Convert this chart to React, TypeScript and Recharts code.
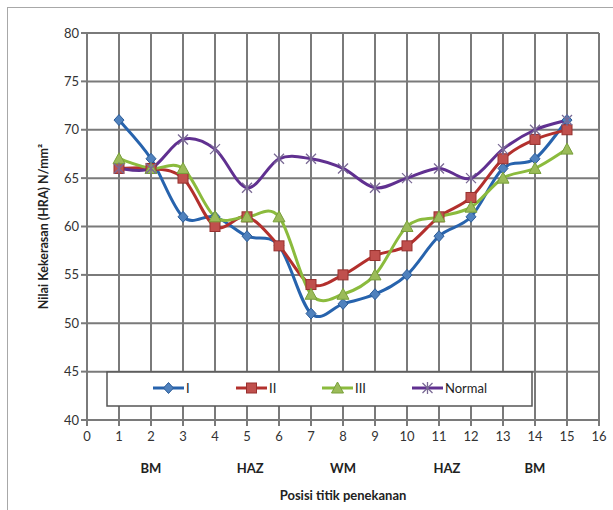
import React from 'react';
import { LineChart, Line, XAxis, YAxis, CartesianGrid } from 'recharts';

const POSITIONS = [1, 2, 3, 4, 5, 6, 7, 8, 9, 10, 11, 12, 13, 14, 15];
const SERIES_I = [71, 67, 61, 61, 59, 58, 51, 52, 53, 55, 59, 61, 66, 67, 71];
const SERIES_II = [66, 66, 65, 60, 61, 58, 54, 55, 57, 58, 61, 63, 67, 69, 70];
const SERIES_III = [67, 66, 66, 61, 61, 61, 53, 53, 55, 60, 61, 62, 65, 66, 68];
const SERIES_NORMAL = [66, 66, 69, 68, 64, 67, 67, 66, 64, 65, 66, 65, 68, 70, 71];

const X_TICKS = [0, 1, 2, 3, 4, 5, 6, 7, 8, 9, 10, 11, 12, 13, 14, 15, 16];
const Y_TICKS = [40, 45, 50, 55, 60, 65, 70, 75, 80];
const ZONE_LABELS = ['BM', 'HAZ', 'WM', 'HAZ', 'BM'];
const ZONE_POS = [2, 5.1, 8, 11.25, 14];

const FONT = 'Lato, "Noto Sans", sans-serif';
const GRID = '#7a7a7a';

const data = POSITIONS.map((p, i) => ({
  pos: p,
  I: SERIES_I[i],
  II: SERIES_II[i],
  III: SERIES_III[i],
  Normal: SERIES_NORMAL[i],
}));

// excel-ish smoothed line (catmull-rom through the points)
function smoothCurve(context: any) {
  let pts: number[][] = [];
  return {
    areaStart() {},
    areaEnd() {},
    lineStart() {
      pts = [];
    },
    point(x: number, y: number) {
      pts.push([+x, +y]);
    },
    lineEnd() {
      if (!pts.length) return;
      context.moveTo(pts[0][0], pts[0][1]);
      const t = 1 / 6;
      for (let i = 0; i < pts.length - 1; i++) {
        const p0 = pts[i - 1] || pts[i];
        const p1 = pts[i];
        const p2 = pts[i + 1];
        const p3 = pts[i + 2] || p2;
        context.bezierCurveTo(
          p1[0] + (p2[0] - p0[0]) * t,
          p1[1] + (p2[1] - p0[1]) * t,
          p2[0] - (p3[0] - p1[0]) * t,
          p2[1] - (p3[1] - p1[1]) * t,
          p2[0],
          p2[1]
        );
      }
    },
  };
}

const Diamond = ({ cx, cy, fill, stroke }: any) => (
  <path d={`M${cx},${cy - 5.5}L${cx + 5},${cy}L${cx},${cy + 5.5}L${cx - 5},${cy}Z`} fill={fill} stroke={stroke} strokeWidth={1} />
);
const Square = ({ cx, cy, fill, stroke }: any) => (
  <rect x={cx - 5} y={cy - 5} width={10} height={10} fill={fill} stroke={stroke} strokeWidth={1} />
);
const Triangle = ({ cx, cy, fill, stroke }: any) => (
  <path d={`M${cx},${cy - 6}L${cx + 6},${cy + 5}L${cx - 6},${cy + 5}Z`} fill={fill} stroke={stroke} strokeWidth={1} />
);
const Star = ({ cx, cy, stroke }: any) => (
  <path
    d={`M${cx - 5},${cy - 5}L${cx + 5},${cy + 5}M${cx - 5},${cy + 5}L${cx + 5},${cy - 5}M${cx},${cy - 6}L${cx},${cy + 6}`}
    stroke={stroke}
    strokeWidth={1.3}
    fill="none"
  />
);

const SERIES = [
  { key: 'I', line: '#2763ad', fill: '#4f81bd', edge: '#2c5c98', Mark: Diamond },
  { key: 'II', line: '#b3302d', fill: '#c0504d', edge: '#98302e', Mark: Square },
  { key: 'III', line: '#8bbb3d', fill: '#9bbb59', edge: '#78a03a', Mark: Triangle },
  { key: 'Normal', line: '#603090', fill: 'none', edge: '#7a6a95', Mark: Star },
];

const LEGEND_X = [153, 236, 322, 412];

// legend sits inside the plot as in the original, so drawn as an overlay
const LegendBox = () => (
  <svg width={430} height={38} style={{ position: 'absolute', left: 106, top: 371, display: 'block' }}>
    <rect x={1} y={1} width={425} height={34} fill="#fff" stroke="#555" strokeWidth={1.5} />
    {SERIES.map((s, i) => {
      const x0 = LEGEND_X[i] - 106;
      return (
        <g key={s.key}>
          <line x1={x0} x2={x0 + 31} y1={17} y2={17} stroke={s.line} strokeWidth={3} />
          <s.Mark cx={x0 + 15.5} cy={17} fill={s.fill} stroke={s.edge} />
          <text x={x0 + 33} y={21.5} fontFamily={FONT} fontSize={13} fill="#222">
            {s.key}
          </text>
        </g>
      );
    })}
  </svg>
);

const XLabels = ({ viewBox }: any) => {
  const { x, y, width } = viewBox;
  return (
    <g fontFamily={FONT} fill="#222">
      {ZONE_LABELS.map((z, i) => (
        <text key={i} x={x + (width * ZONE_POS[i]) / 16} y={y + 53} textAnchor="middle" fontSize={13} fontWeight="bold">
          {z}
        </text>
      ))}
      <text x={x + (width * 8) / 16} y={y + 80} textAnchor="middle" fontSize={13} fontWeight="bold">
        Posisi titik penekanan
      </text>
    </g>
  );
};

const YLabel = ({ viewBox }: any) => {
  const { y, height } = viewBox;
  const cy = y + height / 2;
  return (
    <text x={48} y={cy} transform={`rotate(-90 48 ${cy})`} textAnchor="middle" fontFamily={FONT} fontSize={12.5} fontWeight="bold" fill="#222">
      Nilai Kekerasan (HRA) N/mm²
    </text>
  );
};

export default function App() {
  return (
    <div style={{ position: 'absolute', left: 0, top: 0, width: 613, height: 510, background: '#fff', overflow: 'hidden' }}>
      <div style={{ position: 'absolute', left: 7, top: 7, width: 640, height: 600, border: '1.5px solid #a8a8a8' }} />
      <LineChart width={613} height={510} data={data} margin={{ top: 33, right: 14, left: 47, bottom: 0 }}>
        <CartesianGrid stroke={GRID} strokeWidth={2} />
        <XAxis
          dataKey="pos"
          type="number"
          domain={[0, 16]}
          ticks={X_TICKS}
          interval={0}
          height={90}
          axisLine={{ stroke: GRID, strokeWidth: 2 }}
          tickLine={{ stroke: GRID, strokeWidth: 2 }}
          tickSize={6}
          tick={{ fontFamily: FONT, fontSize: 13, fill: '#333', dy: 4 }}
          label={<XLabels />}
        />
        <YAxis
          type="number"
          domain={[40, 80]}
          ticks={Y_TICKS}
          interval={0}
          width={40}
          axisLine={{ stroke: GRID, strokeWidth: 2 }}
          tickLine={{ stroke: GRID, strokeWidth: 2 }}
          tickSize={6}
          tick={{ fontFamily: FONT, fontSize: 13, fill: '#333' }}
          label={<YLabel />}
        />
        <YAxis yAxisId="right" orientation="right" width={0} domain={[40, 80]} axisLine={{ stroke: GRID, strokeWidth: 2 }} tick={false} tickLine={false} />
        {SERIES.map((s) => (
          <Line
            key={s.key}
            dataKey={s.key}
            type={smoothCurve as any}
            stroke={s.line}
            strokeWidth={3}
            dot={(p: any) => <s.Mark key={p.index} cx={p.cx} cy={p.cy} fill={s.fill} stroke={s.edge} />}
            activeDot={false}
            isAnimationActive={false}
          />
        ))}
      </LineChart>
      <LegendBox />
    </div>
  );
}
